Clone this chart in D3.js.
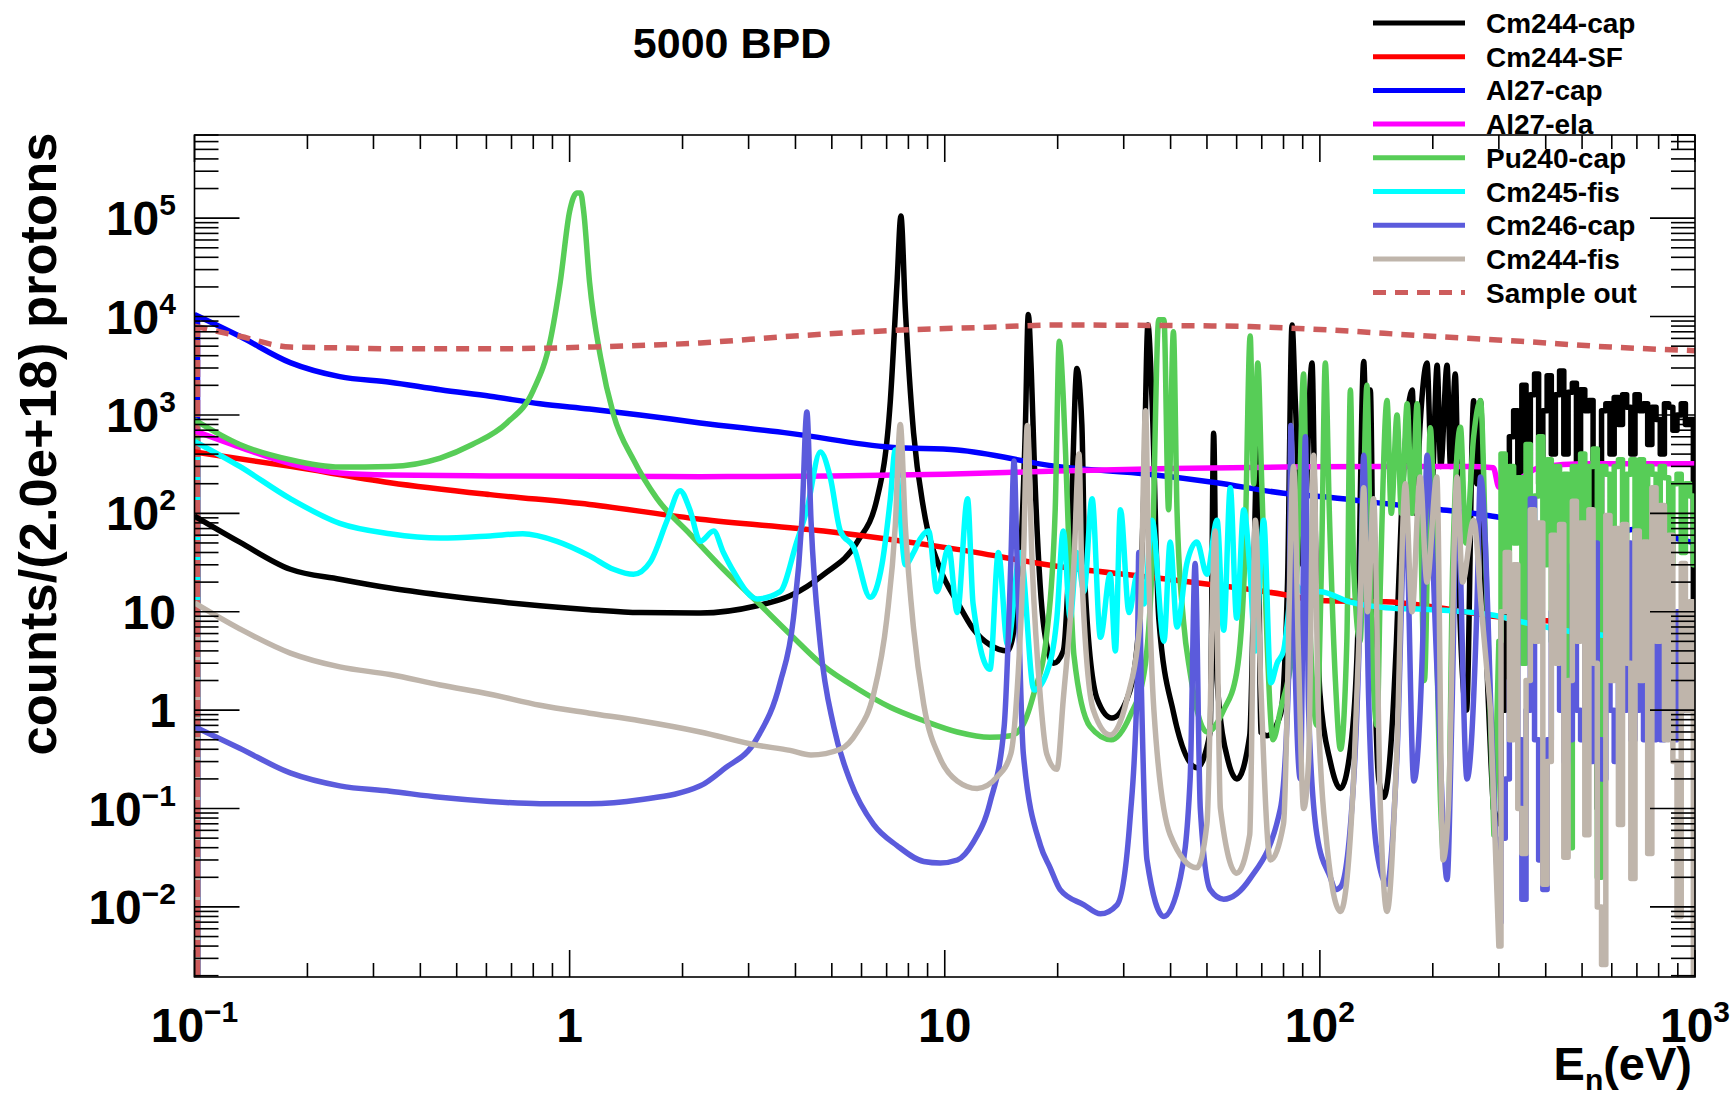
<!DOCTYPE html>
<html>
<head>
<meta charset="utf-8">
<script src="https://cdn.jsdelivr.net/npm/d3@7"></script>
<style>
  body { margin: 0; background: #fff; }
  text { font-family: "Liberation Sans", Arial, Helvetica, sans-serif; font-weight: bold; fill: #000; }
</style>
</head>
<body>
<svg id="chart" width="1731" height="1093"></svg>
<script>
// ---- data: [energy (eV), counts] ----
const cm244Cap = [[0.1,94],[0.132,51],[0.18,27],[0.244,21.4],[0.332,17.4],[0.452,14.8],[0.614,12.9],[0.834,11.5],[1.13,10.5],[1.54,9.8],[2.23,9.7],[3.16,11.5],[3.87,14.5],[4.76,24],[5.84,51],[6.6,141],[7.16,1380],[7.46,22000],[7.64,105000],[7.85,12000],[8.26,650],[8.79,109],[9.73,27],[10.8,12.6],[11.9,6.7],[13.2,4.6],[14.7,4.0],[15.7,16],[16.4,735],[16.7,10500],[17.0,3000],[17.3,389],[18.4,6.7],[19.5,3.0],[20.7,4.0],[21.8,141],[22.5,2960],[23.2,800],[23.7,16],[25.5,1.29],[27.9,0.83],[30.6,1.29],[32.6,4.6],[33.9,141],[34.8,8200],[35.7,1390],[37.2,8.6],[40.7,0.95],[47,0.26],[51,0.6],[52.1,650],[53.2,2],[57,0.3],[60.1,0.2],[65,0.55],[68.3,570],[69.5,0.6],[72.3,0.55],[78.5,0.9],[82,20],[84.3,8200],[86,1390],[90,30],[95.3,3370],[97,100],[100,1.5],[106.6,0.3],[113.5,0.16],[120.6,0.4],[126,5],[130.9,3500],[133.5,300],[136.3,1790],[139,10],[143.5,0.2],[148,0.13],[155,0.5],[160,5],[165,100],[176.3,1790],[180,100],[185,800],[193,3370],[199,200],[205.4,3200],[210,300],[218.3,3200],[223,300],[229.6,2600],[236,10],[246,1],[257,1390],[262,200],[268,1390],[276,10],[290,0.1]];

const cm244SF = [[0.1,420],[0.18,300],[0.332,205],[0.614,155],[1.13,123],[2.23,87],[4.76,66],[10.8,43],[19.9,29],[35,22.5],[53,18.6],[80,15],[100,13],[150,12.6],[330,8.5],[600,7.5],[1000,6]];

const al27Cap = [[0.1,10500],[0.132,6300],[0.18,3400],[0.244,2450],[0.332,2150],[0.452,1800],[0.614,1550],[0.834,1300],[1.13,1150],[1.54,1000],[2.23,830],[3.87,650],[7.16,470],[10.8,440],[19.9,300],[35,250],[53,205],[80,160],[107,145],[151,125],[205,110],[280,95],[310,88],[340,60],[400,70],[600,65],[730,70],[900,55],[1000,50]];

const al27Ela = [[0.1,690],[0.132,470],[0.18,320],[0.244,257],[0.332,245],[0.614,240],[1.13,238],[2.23,236],[5,240],[10,250],[20,270],[40,285],[80,295],[150,300],[250,300],[290,290],[300,185],[322,182],[340,220],[395,300],[500,320],[1000,320]];

const pu240Cap = [[0.1,890],[0.132,500],[0.18,350],[0.244,295],[0.332,300],[0.452,365],[0.55,500],[0.68,830],[0.8,1780],[0.887,5600],[0.944,22400],[1.0,117000],[1.045,180000],[1.07,180000],[1.09,117000],[1.13,22400],[1.21,3800],[1.31,1000],[1.48,350],[1.71,141],[2.09,62],[2.57,27],[3.16,12.6],[3.87,5.9],[4.76,2.8],[5.84,1.66],[7.16,1.07],[8.79,0.78],[10.8,0.6],[13.2,0.53],[15,0.55],[16.2,0.72],[17.3,1.5],[18.7,5.9],[19.7,109],[20.2,5600],[20.7,1500],[21,400],[21.6,20],[22.1,3.6],[24.4,0.68],[27.8,0.5],[31.2,0.88],[34,2.4],[35.7,30],[37.2,9300],[38.4,9300],[39.5,109],[40.7,7000],[41.6,109],[43.3,8],[45.1,2.4],[50,0.6],[55.4,1.0],[60,2.4],[63,30],[65.2,6350],[66.6,200],[68.3,3370],[70,200],[72.3,5],[75,0.5],[78.5,1.0],[85,5],[88,100],[90.5,2600],[92,100],[95,3],[98,0.7],[101,30],[103.4,3370],[106,100],[110,2],[113.5,0.4],[118,5],[120.6,1790],[123,30],[128,5],[133.5,2000],[137,10],[142,0.7],[145,20],[151,1400],[155,100],[160.6,1000],[165,100],[170.9,1300],[176,100],[181.7,1300],[186,50],[190,2],[197,740],[203,20],[210,0.1],[214,0.032],[220,0.06],[226,30],[237,750],[245,50],[257,600],[268,1400],[278,20],[291,0.054]];

const cm245Fis = [[0.1,540],[0.132,300],[0.18,141],[0.244,79],[0.332,62],[0.452,56],[0.614,59],[0.75,62],[0.925,52],[1.13,37],[1.31,27],[1.48,24],[1.64,32],[1.82,85],[1.97,170],[2.09,110],[2.23,52],[2.42,66],[2.57,40],[2.73,26],[3.16,13.5],[3.64,16],[4.03,51],[4.29,109],[4.66,420],[4.95,234],[5.27,66],[5.72,45],[6.33,14],[6.8,30],[7.16,140],[7.38,440],[7.6,100],[7.85,30],[8.26,40],[8.6,55],[9.06,66],[9.53,16],[10.24,45],[10.8,9.8],[11.5,141],[11.9,12],[13.2,2.6],[13.9,40],[14.7,4.6],[15.9,40],[17.3,1.6],[18.7,2.4],[19.9,8.6],[20.7,66],[21.6,8.6],[22.5,40],[23.5,16],[24.7,141],[26,5.5],[27.6,24],[28.5,4],[29.4,109],[31,9.8],[32.6,24],[34,12],[35.7,85],[38.4,5],[39.9,51],[41.6,7],[44.2,31],[47,51],[50,24],[53.2,85],[55.4,6.5],[57.7,182],[60,8.6],[62.7,109],[65.2,24],[67.3,4],[70.8,85],[74,1.9],[76.9,3],[80,4],[85,20],[90,16],[100,16],[120,12.6],[150,11],[200,10.5],[300,9],[340,8],[466,6.3],[600,5.6],[700,5],[1000,4.5]];

const cm246Cap = [[0.1,0.68],[0.132,0.41],[0.18,0.23],[0.244,0.17],[0.332,0.15],[0.452,0.13],[0.614,0.118],[0.834,0.112],[1.13,0.112],[1.54,0.123],[2.23,0.17],[2.57,0.25],[3.16,0.52],[3.64,1.9],[3.95,8.6],[4.16,85],[4.29,1070],[4.40,85],[4.66,4.6],[5.06,0.68],[5.6,0.19],[6.46,0.069],[7.46,0.042],[8.79,0.029],[9.73,0.028],[10.8,0.03],[11.9,0.045],[13.2,0.115],[14.4,0.68],[15,31],[15.3,340],[15.6,31],[16.2,0.36],[18,0.042],[19.1,0.025],[20.3,0.015],[23.5,0.0105],[26,0.0085],[28.8,0.0105],[31.2,0.08],[32.6,2],[32.9,40],[33.4,2],[34.6,0.03],[38.4,0.008],[42.5,0.02],[45.1,0.2],[46.5,31],[48,0.1],[51,0.015],[55.4,0.012],[65.2,0.0195],[78.5,0.1],[82.6,2.4],[83.7,780],[86,2.4],[88.7,0.2],[91.5,600],[93.3,1],[98.2,0.054],[106.6,0.02],[110,0.015],[113.5,0.016],[123,0.19],[128,10],[130.9,390],[134.9,1.3],[142,0.036],[151,0.017],[160.6,0.36],[169.2,109],[178,0.19],[188,5],[193.1,390],[205.4,2.4],[218.3,0.019],[225,1],[232.1,182],[246.7,0.2],[262,10],[268,234],[285,1.3]];

const cm244Fis = [[0.1,12.3],[0.132,6.7],[0.18,3.8],[0.244,2.75],[0.332,2.3],[0.452,1.8],[0.614,1.45],[0.834,1.12],[1.13,0.93],[1.54,0.78],[2.23,0.6],[3.16,0.44],[3.87,0.39],[4.4,0.35],[5.27,0.4],[5.84,0.6],[6.46,1.45],[7.01,8.6],[7.38,74],[7.61,800],[7.85,74],[8.26,6.7],[8.79,1.14],[9.73,0.32],[10.8,0.19],[12.2,0.16],[13.8,0.21],[15,0.36],[15.7,2.4],[16.2,31],[16.6,780],[17.1,31],[18,1.29],[18.7,0.36],[19.9,0.25],[20.7,1.29],[22.1,31],[22.8,400],[23.2,24],[24.9,1.0],[27.6,0.56],[30.6,1.29],[33.2,8.6],[34.3,1100],[35,24],[36.1,1],[39.9,0.054],[47,0.025],[50,0.07],[52.6,66],[54.3,0.1],[60,0.022],[65,0.054],[67.3,85],[69.4,2.4],[73.8,0.03],[80,0.07],[85.1,300],[87.8,3],[90.5,0.1],[93.3,0.3],[96.3,390],[99,1],[104,0.05],[113.5,0.009],[123,0.2],[128,10],[130.9,182],[134,10],[139,141],[145,0.1],[151,0.009],[160,0.3],[169,200],[176,10],[185,234],[193,20],[205,234],[213,0.03],[220,0.1],[232,234],[240,20],[257,85],[270,10],[285,1]];

const sampleOut = [[0.1,8000],[0.132,6300],[0.18,4900],[0.244,4800],[0.332,4700],[0.614,4700],[1.13,4900],[2.23,5400],[3.87,6300],[7.16,7200],[13.2,7800],[19.9,8200],[40,8100],[65,7900],[106,7300],[185,6400],[343,5600],[595,4900],[1000,4500]];

// dense resonance region above 300 eV, read as histogram bins
const forestEnergy = [300,308,316,324,333,341,350,359,369,378,388,398,409,419,430,441,453,465,477,489,502,515,528,542,556,571,586,601,617,633,649,666,683,701,720,738,758,777,798,818,840,862,884,907,931,955,980,1000];
const cm244CapForest = [0.07,1,80,600,1100,150,2000,300,1600,2600,200,1100,2500,400,1600,2800,400,1700,2100,300,1800,1100,1400,60,0.1,1100,1300,400,1500,800,1600,1200,400,1600,1100,1300,500,1200,900,400,1300,1200,700,1000,1300,800,900,8];
const pu240CapForest = [5,400,30,300,50,230,3,500,20,150,600,30,350,5,300,20,250,0.04,300,20,400,10,300,450,0.02,300,250,5,300,350,10,250,350,15,350,20,300,250,30,300,230,30,200,250,40,200,150,30];
const cm246CapForest = [0.007,0.05,0.2,2,10,0.5,0.012,1,141,0.5,0.03,0.015,0.5,10,50,1,0.3,0.5,30,1,0.5,5,0.3,50,0.5,0.2,30,1,0.3,10,1,50,0.5,1,20,0.5,3,0.5,10,0.5,30,1,0.5,10,1,5,1,10];
const cm244FisForest = [0.004,10,40,0.5,30,0.1,0.035,2,109,5,80,0.017,0.3,60,3,77,0.032,2,133,5,80,0.054,109,3,0.01,0.0026,95,2,70,0.069,77,3,0.0195,66,2,51,0.035,182,5,120,0.5,60,0.3,0.008,31,1,12.6,0.002];

const seriesNames = ["Cm244-cap", "Cm244-SF", "Al27-cap", "Al27-ela", "Pu240-cap", "Cm245-fis", "Cm246-cap", "Cm244-fis", "Sample out"];
const seriesData = [cm244Cap, cm244SF, al27Cap, al27Ela, pu240Cap, cm245Fis, cm246Cap, cm244Fis, sampleOut];
const seriesForest = [cm244CapForest, null, null, null, pu240CapForest, null, cm246CapForest, cm244FisForest, null];
const seriesColors = ["#000000", "#ff0000", "#0000ff", "#ff00ff", "#57cd57", "#00ffff", "#5b5bdc", "#bfb5ab", "#cd5c5c"];
const seriesDash = [null, null, null, null, null, null, null, null, "13,9"];

const xDomain = [0.1, 1000];
const yDomain = [1.94e-3, 7.0e5];
const xTickValues = [0.1, 1, 10, 100, 1000];
const xTickLabels = [["10", "\u22121"], ["1", ""], ["10", ""], ["10", "2"], ["10", "3"]];
const yTickValues = [1e-2, 1e-1, 1, 10, 1e2, 1e3, 1e4, 1e5];
const yTickLabels = [["10", "\u22122"], ["10", "\u22121"], ["1", ""], ["10", ""], ["10", "2"], ["10", "3"], ["10", "4"], ["10", "5"]];

// frame geometry (pixels of the 1731x1093 canvas)
var frame = { left: 194.5, right: 1695, top: 135, bottom: 977 };
var lineWidth = 5.5;

var svg = d3.select("#chart");

var xScale = d3.scaleLog().domain(xDomain).range([frame.left, frame.right]);
var yScale = d3.scaleLog().domain(yDomain).range([frame.bottom, frame.top]);

svg.append("defs").append("clipPath").attr("id", "plot-clip")
  .append("rect")
  .attr("x", frame.left).attr("y", frame.top)
  .attr("width", frame.right - frame.left)
  .attr("height", frame.bottom - frame.top);

// 1. curves, drawn in legend order like ROOT does
function px(d) { return xScale(d[0]); }
function py(d) { return yScale(Math.max(d[1], yDomain[0] * 0.5)); }
var smoothLine = d3.line().x(px).y(py).curve(d3.curveMonotoneX);
var stepLine = d3.line().x(px).y(py).curve(d3.curveStep);

var curves = svg.append("g").attr("clip-path", "url(#plot-clip)");

// first-bin edges: vertical lines from the bottom of the frame
seriesData.forEach(function (data, i) {
  curves.append("line")
    .attr("x1", frame.left + 3).attr("x2", frame.left + 3)
    .attr("y1", frame.bottom).attr("y2", py(data[0]))
    .attr("stroke", seriesColors[i])
    .attr("stroke-width", lineWidth)
    .attr("stroke-dasharray", seriesDash[i] ? "17,3" : null);
});

seriesData.forEach(function (data, i) {
  var d = smoothLine(data);
  if (seriesForest[i]) {
    var bins = forestEnergy.map(function (e, k) { return [e, seriesForest[i][k]]; });
    d += "L" + stepLine(bins).slice(1);
  }
  curves.append("path")
    .attr("d", d)
    .attr("fill", "none")
    .attr("stroke", seriesColors[i])
    .attr("stroke-width", lineWidth)
    .attr("stroke-linejoin", "round")
    .attr("stroke-dasharray", seriesDash[i]);
});

// 2. frame and ticks on all four sides
var axes = svg.append("g").attr("stroke", "#000").attr("stroke-width", 1.6);
axes.append("rect")
  .attr("x", frame.left).attr("y", frame.top)
  .attr("width", frame.right - frame.left)
  .attr("height", frame.bottom - frame.top)
  .attr("fill", "none");

function isMajor(v) {
  return Math.abs(Math.log10(v) - Math.round(Math.log10(v))) < 1e-6;
}

xScale.ticks().forEach(function (v) {
  var x = xScale(v), len = isMajor(v) ? 27 : 14;
  axes.append("line").attr("x1", x).attr("x2", x).attr("y1", frame.bottom).attr("y2", frame.bottom - len);
  axes.append("line").attr("x1", x).attr("x2", x).attr("y1", frame.top).attr("y2", frame.top + len);
});

yScale.ticks().forEach(function (v) {
  var y = yScale(v), len = isMajor(v) ? 45 : 24;
  axes.append("line").attr("y1", y).attr("y2", y).attr("x1", frame.left).attr("x2", frame.left + len);
  axes.append("line").attr("y1", y).attr("y2", y).attr("x1", frame.right).attr("x2", frame.right - len);
});

// 3. tick labels (10^n with superscripts)
function addLabel(g, lab) {
  g.append("tspan").text(lab[0]);
  if (lab[1]) {
    g.append("tspan").attr("dy", -20).style("font-size", "30px").text(lab[1]);
  }
}

xTickValues.forEach(function (v, i) {
  var t = svg.append("text")
    .attr("x", xScale(v))
    .attr("y", 1042)
    .attr("text-anchor", "middle")
    .style("font-size", "48px");
  addLabel(t, xTickLabels[i]);
});

yTickValues.forEach(function (v, i) {
  var t = svg.append("text")
    .attr("x", 176)
    .attr("y", yScale(v) + 17)
    .attr("text-anchor", "end")
    .style("font-size", "48px");
  addLabel(t, yTickLabels[i]);
});

// 4. titles
svg.append("text")
  .attr("x", 732).attr("y", 58)
  .attr("text-anchor", "middle")
  .style("font-size", "43px")
  .text("5000 BPD");

svg.append("text")
  .attr("transform", "translate(56,444) rotate(-90)")
  .attr("text-anchor", "middle")
  .style("font-size", "52.5px")
  .text("counts/(2.0e+18) protons");

var xt = svg.append("text")
  .attr("x", 1692).attr("y", 1080)
  .attr("text-anchor", "end")
  .style("font-size", "47px");
xt.append("tspan").text("E");
xt.append("tspan").attr("dy", 10).style("font-size", "30px").text("n");
xt.append("tspan").attr("dy", -10).text("(eV)");

// 5. legend (no fill, sits over the top of the frame)
var legend = svg.append("g");
seriesNames.forEach(function (name, i) {
  var ry = 23 + i * 33.7;
  legend.append("line")
    .attr("x1", 1373).attr("x2", 1465)
    .attr("y1", ry).attr("y2", ry)
    .attr("stroke", seriesColors[i])
    .attr("stroke-width", 5)
    .attr("stroke-dasharray", seriesDash[i]);
  legend.append("text")
    .attr("x", 1486).attr("y", ry + 10)
    .style("font-size", "28px")
    .text(name);
});
</script>
</body>
</html>
